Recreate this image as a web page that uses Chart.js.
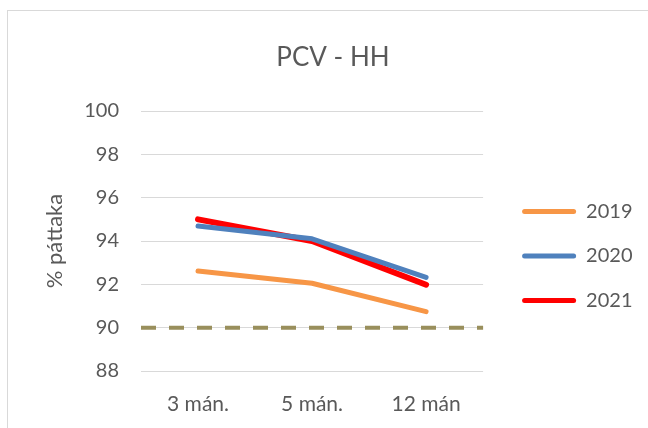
<!DOCTYPE html>
<html>
<head>
<meta charset="utf-8">
<script src="https://cdn.jsdelivr.net/npm/chart.js@4.4.1/dist/chart.umd.min.js"></script>
<style>
  html, body { margin: 0; padding: 0; background: #fff; }
  #wrap { position: relative; width: 648px; height: 428px; overflow: hidden; }
  #frame { position: absolute; left: 7px; top: 10px; width: 700px; height: 500px; border: 1px solid #d9d9d9; }
  #pcvChart { position: absolute; left: 0; top: 0; }
</style>
</head>
<body>
<div id="wrap">
  <div id="frame"></div>
  <canvas id="pcvChart" width="648" height="428"></canvas>
</div>
<script>
const categories = ["3 mán.", "5 mán.", "12 mán"];
const years = ["2019", "2020", "2021"];
const values2019 = [92.62, 92.05, 90.74];
const values2020 = [94.69, 94.10, 92.32];
const values2021 = [95.00, 94.00, 91.98];
const yTicks = [88, 90, 92, 94, 96, 98, 100];
const targetLine = 90;

const textColor = "#595959";
const fontFamily = "Lato, 'Liberation Sans', sans-serif";

// strikuð lína fyrir markmiðið (90%)
const targetPlugin = {
  id: "targetLine",
  afterLayout(chart) {
    // færa skýringuna niður og til hægri
    const lg = chart.legend;
    lg.top += 37;
    lg.bottom += 37;
    lg.left += 14.5;
    lg.right += 14.5;
  },
  beforeDatasetsDraw(chart) {
    const { ctx, chartArea, scales } = chart;
    const y = scales.y.getPixelForValue(targetLine);
    ctx.save();
    ctx.strokeStyle = "#998f5c";
    ctx.lineWidth = 4;
    ctx.setLineDash([15, 13]);
    ctx.beginPath();
    ctx.moveTo(chartArea.left, y);
    ctx.lineTo(chartArea.right, y);
    ctx.stroke();
    ctx.restore();
  }
};

const ctx = document.getElementById("pcvChart").getContext("2d");
new Chart(ctx, {
  type: "line",
  data: {
    labels: categories,
    datasets: [
      { label: years[0], data: values2019, borderColor: "#f79646", backgroundColor: "#f79646", borderWidth: 5 },
      { label: years[1], data: values2020, borderColor: "#4f81bd", backgroundColor: "#4f81bd", borderWidth: 5 },
      { label: years[2], data: values2021, borderColor: "#ff0000", backgroundColor: "#ff0000", borderWidth: 6 }
    ]
  },
  options: {
    responsive: false,
    animation: false,
    elements: {
      point: { radius: 0 },
      line: { tension: 0, borderCapStyle: "round", borderJoinStyle: "round" }
    },
    layout: { padding: { top: 10, left: 38, right: 20, bottom: 0 } },
    scales: {
      x: {
        offset: true,
        grid: { display: false, drawTicks: false },
        border: { display: false },
        ticks: { color: textColor, font: { family: fontFamily, size: 21 }, padding: 21 },
        afterFit(axis) { axis.height = 57; }
      },
      y: {
        min: 88,
        max: 100,
        afterBuildTicks(axis) { axis.ticks = yTicks.map(v => ({ value: v })); },
        grid: { color: "#d9d9d9", lineWidth: 1, drawTicks: false },
        border: { display: false },
        ticks: { color: textColor, font: { family: fontFamily, size: 20 }, padding: 22 },
        title: {
          display: true,
          text: "% páttaka",
          color: textColor,
          font: { family: fontFamily, size: 22 },
          padding: { top: 4, bottom: 4 }
        },
        afterFit(axis) { axis.width = 103; }
      }
    },
    plugins: {
      title: {
        display: true,
        text: "PCV - HH",
        color: textColor,
        font: { family: fontFamily, size: 26, weight: "normal" },
        padding: { top: 32, bottom: 37.8 }
      },
      legend: {
        position: "right",
        labels: {
          color: textColor,
          font: { family: fontFamily, size: 20 },
          boxWidth: 54,
          boxHeight: 5,
          useBorderRadius: true,
          borderRadius: 2.5,
          padding: 24.5,
          generateLabels(chart) {
            const items = Chart.defaults.plugins.legend.labels.generateLabels(chart);
            items.forEach(it => { it.lineWidth = 0; });
            return items;
          }
        }
      },
      tooltip: { enabled: false }
    }
  },
  plugins: [targetPlugin]
});
</script>
</body>
</html>
